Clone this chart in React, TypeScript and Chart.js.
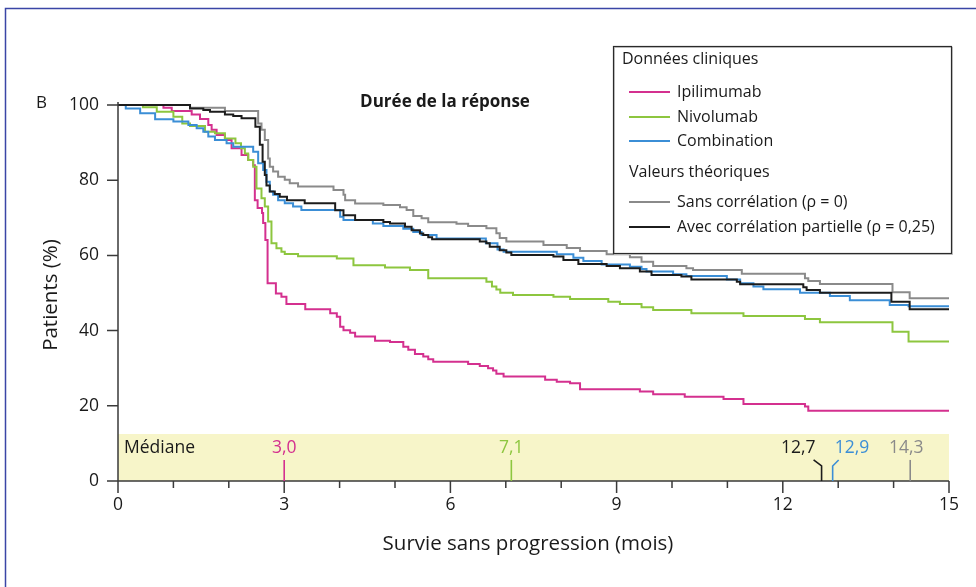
import React, { useEffect, useRef } from 'react';
import { Chart, registerables } from 'chart.js';

Chart.register(...registerables);

// ---- Data (months, % patients) ----
const xTickValues = [0, 3, 6, 9, 12, 15];
const yTickValues = [0, 20, 40, 60, 80, 100];

const ipilimumabTimes = [0, 0.82, 0.97, 1.33, 1.48, 1.63, 1.69, 1.78, 1.93, 2.05, 2.23, 2.35, 2.44, 2.47, 2.52, 2.6, 2.62, 2.66, 2.7, 2.85, 2.95, 3.04, 3.38, 3.83, 3.95, 4.01, 4.07, 4.19, 4.28, 4.64, 4.91, 5.15, 5.24, 5.36, 5.51, 5.6, 5.69, 6.32, 6.53, 6.68, 6.77, 6.83, 6.96, 7.71, 7.92, 8.16, 8.34, 9.42, 9.66, 10.23, 10.93, 11.29, 12.4, 12.46, 15];
const ipilimumabSurvival = [100, 99.3, 98.4, 97.5, 96.3, 94.7, 93.4, 92.0, 90.7, 88.5, 86.7, 85.4, 84.0, 74.7, 72.6, 71.3, 68.6, 64.1, 52.6, 49.9, 49.0, 47.1, 45.7, 44.6, 43.7, 41.0, 40.1, 39.4, 38.4, 37.3, 37.0, 35.7, 34.9, 33.8, 33.1, 32.4, 31.7, 31.1, 30.6, 30.0, 29.4, 28.5, 27.8, 26.9, 26.4, 26.0, 24.4, 23.8, 23.1, 22.4, 21.8, 20.5, 19.8, 18.7, 18.7];

const nivolumabTimes = [0, 0.45, 0.7, 1.0, 1.16, 1.3, 1.57, 1.75, 1.93, 2.12, 2.22, 2.29, 2.35, 2.44, 2.5, 2.59, 2.65, 2.71, 2.77, 2.86, 2.95, 3.01, 3.25, 3.95, 4.25, 4.82, 5.27, 5.6, 6.65, 6.75, 6.83, 6.9, 7.13, 7.86, 8.16, 8.85, 9.06, 9.45, 9.66, 10.35, 11.29, 12.4, 12.67, 13.98, 14.27, 15];
const nivolumabSurvival = [100, 99.4, 98.2, 96.9, 95.1, 94.4, 92.9, 92.5, 91.1, 89.8, 88.5, 87.1, 85.4, 83.6, 77.8, 75.2, 73.0, 69.0, 63.2, 61.9, 61.0, 60.4, 59.8, 59.2, 57.4, 56.8, 56.1, 53.9, 53.0, 51.7, 50.9, 50.1, 49.5, 49.0, 48.4, 47.7, 47.1, 46.2, 45.5, 44.6, 43.9, 43.1, 42.2, 39.7, 37.1, 37.1];

const combinationTimes = [0, 0.14, 0.4, 0.67, 1.0, 1.27, 1.42, 1.54, 1.63, 1.75, 1.96, 2.08, 2.44, 2.53, 2.62, 2.68, 2.74, 2.8, 2.89, 3.01, 3.16, 3.31, 4.01, 4.07, 4.6, 4.79, 5.15, 5.33, 5.48, 5.75, 6.64, 6.85, 6.96, 7.92, 8.22, 8.4, 8.73, 9.24, 9.45, 9.54, 10.02, 10.26, 10.99, 11.23, 11.47, 11.65, 12.31, 12.85, 13.21, 13.93, 14.27, 15];
const combinationSurvival = [100, 99.1, 97.8, 96.2, 95.6, 94.7, 93.8, 92.9, 91.6, 90.7, 89.8, 88.9, 87.6, 84.5, 82.7, 79.6, 77.0, 76.1, 74.7, 73.9, 73.0, 72.1, 70.3, 69.4, 68.5, 67.8, 67.1, 66.2, 65.4, 64.5, 63.2, 61.6, 61.0, 60.3, 59.4, 58.5, 57.6, 57.0, 56.4, 55.7, 55.0, 54.5, 53.6, 52.6, 51.7, 51.0, 50.1, 49.2, 48.1, 46.8, 46.5, 46.5];

const noCorrTimes = [0, 1.3, 1.93, 2.53, 2.59, 2.65, 2.71, 2.74, 2.8, 2.89, 3.01, 3.1, 3.25, 3.89, 4.07, 4.1, 4.28, 4.79, 5.09, 5.21, 5.33, 5.48, 5.6, 6.11, 6.32, 6.65, 6.83, 6.89, 7.01, 7.68, 8.1, 8.34, 8.82, 9.24, 9.45, 9.66, 10.26, 10.38, 11.26, 12.4, 12.46, 12.67, 13.98, 14.29, 15];
const noCorrSurvival = [100, 99.3, 98.4, 95.1, 93.4, 90.7, 85.8, 83.6, 82.3, 80.9, 80.1, 79.2, 78.3, 77.4, 76.1, 74.7, 73.8, 73.4, 72.8, 72.1, 70.5, 69.9, 68.8, 68.4, 67.8, 67.2, 65.9, 64.6, 63.7, 62.8, 62.0, 61.2, 60.3, 59.5, 58.3, 57.2, 56.6, 56.1, 55.1, 53.9, 53.2, 52.4, 50.2, 48.6, 48.6];

const partialCorrTimes = [0, 1.3, 1.54, 1.66, 1.93, 2.08, 2.23, 2.48, 2.56, 2.61, 2.65, 2.68, 2.74, 2.83, 2.92, 3.05, 3.37, 3.92, 4.07, 4.28, 4.79, 4.91, 5.18, 5.3, 5.45, 5.51, 5.6, 5.67, 6.53, 6.65, 6.71, 6.89, 7.01, 7.1, 7.86, 8.04, 8.31, 8.82, 9.06, 9.42, 9.63, 10.17, 10.35, 11.17, 11.23, 12.37, 12.43, 12.67, 13.96, 14.29, 15];
const partialCorrSurvival = [100, 99.1, 98.7, 98.2, 97.5, 97.1, 96.5, 94.2, 89.4, 84.9, 81.4, 78.6, 77.0, 76.3, 75.6, 74.7, 73.9, 72.0, 70.7, 69.4, 68.9, 68.5, 67.6, 66.7, 65.8, 65.4, 64.8, 64.3, 63.7, 63.2, 62.3, 61.4, 60.8, 60.1, 59.7, 58.8, 57.7, 57.2, 56.6, 55.7, 54.8, 54.4, 53.6, 53.0, 52.3, 51.5, 50.8, 50.1, 47.7, 45.7, 45.7];

const seriesLabels = ['Ipilimumab', 'Nivolumab', 'Combination', 'Sans corrélation (ρ = 0)', 'Avec corrélation partielle (ρ = 0,25)'];
const seriesColors = ['#d4308f', '#8dc63f', '#3b8ed6', '#8a8a8a', '#1c1c1c'];

const medianValues = [3.0, 7.1, 12.7, 12.9, 14.3];
const medianLabels = ['3,0', '7,1', '12,7', '12,9', '14,3'];
const medianColors = ['#d4308f', '#8dc63f', '#1c1c1c', '#3b8ed6', '#8a8a8a'];
const medianBandTop = 12.5;

const FONT = "'Open Sans', 'Noto Sans', sans-serif";

const overlayPlugin = {
  id: 'overlay',
  beforeDraw(chart: any) {
    const { ctx, width, height } = chart;
    ctx.save();
    ctx.fillStyle = '#ffffff';
    ctx.fillRect(0, 0, width, height);
    ctx.strokeStyle = '#3a46a6';
    ctx.lineWidth = 1.5;
    ctx.beginPath();
    ctx.moveTo(5.5, height);
    ctx.lineTo(5.5, 8.5);
    ctx.lineTo(width, 8.5);
    ctx.stroke();
    ctx.restore();
  },
  beforeDatasetsDraw(chart: any) {
    const { ctx } = chart;
    const xs = chart.scales.x;
    const ys = chart.scales.y;
    ctx.save();
    ctx.fillStyle = '#f7f5c9';
    const x0 = xs.getPixelForValue(0);
    const x1 = xs.getPixelForValue(15);
    const yTop = ys.getPixelForValue(medianBandTop);
    const yBot = ys.getPixelForValue(0);
    ctx.fillRect(x0, yTop, x1 - x0, yBot - yTop);
    ctx.restore();
  },
  afterDraw(chart: any) {
    const { ctx } = chart;
    const xs = chart.scales.x;
    const ys = chart.scales.y;
    const area = chart.chartArea;
    ctx.save();

    // axes
    ctx.strokeStyle = '#3a3a3a';
    ctx.lineWidth = 1.5;
    ctx.beginPath();
    ctx.moveTo(area.left, area.top);
    ctx.lineTo(area.left, ys.getPixelForValue(0) + 12);
    ctx.moveTo(area.left, ys.getPixelForValue(0));
    ctx.lineTo(xs.getPixelForValue(15), ys.getPixelForValue(0));
    ctx.stroke();
    // y ticks
    ctx.beginPath();
    yTickValues.forEach((v) => {
      const y = ys.getPixelForValue(v);
      ctx.moveTo(area.left - 11, y);
      ctx.lineTo(area.left, y);
    });
    // x ticks (monthly, longer every 3 months)
    const y0 = ys.getPixelForValue(0);
    for (let m = 1; m <= 15; m++) {
      const x = xs.getPixelForValue(m);
      const len = m % 3 === 0 ? 12 : 7;
      ctx.moveTo(x, y0);
      ctx.lineTo(x, y0 + len);
    }
    ctx.stroke();

    // median markers
    ctx.lineWidth = 1.6;
    const hooks = [0, 0, -8, 6, 0];
    medianValues.forEach((m, i) => {
      const x = xs.getPixelForValue(m);
      const yT = ys.getPixelForValue(5.6);
      const yB = ys.getPixelForValue(4.0);
      ctx.strokeStyle = medianColors[i];
      ctx.beginPath();
      if (hooks[i]) {
        ctx.moveTo(x + hooks[i], yT);
        ctx.lineTo(x, yB);
      } else {
        ctx.moveTo(x, yT);
      }
      ctx.lineTo(x, y0);
      ctx.stroke();
    });
    // median labels
    ctx.font = `17.5px ${FONT}`;
    ctx.textBaseline = 'middle';
    const aligns = ['center', 'center', 'right', 'left', 'center'];
    const offs = [0, 0, -6, 2, -4];
    const yLab = ys.getPixelForValue(8.8);
    medianValues.forEach((m, i) => {
      ctx.fillStyle = medianColors[i];
      ctx.textAlign = aligns[i];
      ctx.fillText(medianLabels[i], xs.getPixelForValue(m) + offs[i], yLab);
    });
    ctx.fillStyle = '#1a1a1a';
    ctx.textAlign = 'left';
    ctx.fillText('Médiane', area.left + 6, yLab);

    // title and panel letter
    ctx.font = `bold 17px ${FONT}`;
    ctx.textAlign = 'center';
    ctx.fillText('Durée de la réponse', 445, 102);
    ctx.font = `17px ${FONT}`;
    ctx.textAlign = 'left';
    ctx.fillText('B', 36, 103);

    // axis titles
    ctx.font = `20.5px ${FONT}`;
    ctx.textAlign = 'center';
    ctx.fillText('Survie sans progression (mois)', 528, 544);
    ctx.save();
    ctx.translate(51, 295);
    ctx.rotate(-Math.PI / 2);
    ctx.fillText('Patients (%)', 0, 0);
    ctx.restore();

    // legend
    const bx = 613, by = 46, bw = 338, bh = 207;
    ctx.fillStyle = '#ffffff';
    ctx.fillRect(bx, by, bw, bh);
    ctx.strokeStyle = '#c8c8c8';
    ctx.lineWidth = 1;
    ctx.strokeRect(bx + 1.5, by + 1.5, bw, bh);
    ctx.strokeStyle = '#2a2a2a';
    ctx.lineWidth = 1.2;
    ctx.strokeRect(bx + 0.5, by + 0.5, bw, bh);
    ctx.font = `16px ${FONT}`;
    ctx.textAlign = 'left';
    ctx.fillStyle = '#1a1a1a';
    ctx.fillText('Données cliniques', 622, 59);
    ctx.fillText('Valeurs théoriques', 629, 172);
    const rowsY = [92, 117, 141, 202, 227];
    chart.data.datasets.forEach((ds: any, i: number) => {
      ctx.strokeStyle = ds.borderColor;
      ctx.lineWidth = 2;
      ctx.beginPath();
      ctx.moveTo(629, rowsY[i]);
      ctx.lineTo(670, rowsY[i]);
      ctx.stroke();
      ctx.fillStyle = '#1a1a1a';
      ctx.fillText(ds.label, 677, rowsY[i]);
    });

    ctx.restore();
  },
};

function toPoints(times: number[], vals: number[]) {
  return times.map((t, i) => ({ x: t, y: vals[i] }));
}

export default function App() {
  const canvasRef = useRef<HTMLCanvasElement | null>(null);

  useEffect(() => {
    document.body.style.margin = '0';
    const canvas = canvasRef.current;
    if (!canvas) return;
    const seriesTimes = [ipilimumabTimes, nivolumabTimes, combinationTimes, noCorrTimes, partialCorrTimes];
    const seriesVals = [ipilimumabSurvival, nivolumabSurvival, combinationSurvival, noCorrSurvival, partialCorrSurvival];
    const orders = [4, 3, 1, 2, 0];
    const chart = new Chart(canvas, {
      type: 'line',
      data: {
        datasets: seriesLabels.map((label, i) => ({
          label,
          data: toPoints(seriesTimes[i], seriesVals[i]),
          borderColor: seriesColors[i],
          backgroundColor: seriesColors[i],
          borderWidth: 2,
          pointRadius: 0,
          stepped: 'before' as const,
          fill: false,
          order: orders[i],
        })),
      },
      options: {
        responsive: false,
        animation: false,
        devicePixelRatio: 1,
        layout: { padding: { left: 0, right: 27, top: 102, bottom: 0 } },
        plugins: { legend: { display: false }, tooltip: { enabled: false }, title: { display: false } },
        events: [],
        scales: {
          x: {
            type: 'linear',
            min: 0,
            max: 15,
            grid: { display: false, drawTicks: false },
            border: { display: false },
            afterBuildTicks: (scale: any) => {
              scale.ticks = xTickValues.map((v) => ({ value: v }));
            },
            afterFit: (scale: any) => {
              scale.height = 106;
            },
            ticks: {
              padding: 14,
              maxRotation: 0,
              autoSkip: false,
              color: '#1a1a1a',
              font: { family: FONT, size: 17.5 },
            },
          },
          y: {
            type: 'linear',
            min: 0,
            max: 100.8,
            grid: { display: false, drawTicks: false },
            border: { display: false },
            afterBuildTicks: (scale: any) => {
              scale.ticks = yTickValues.map((v) => ({ value: v }));
            },
            afterFit: (scale: any) => {
              scale.width = 118;
            },
            ticks: {
              padding: 19,
              color: '#1a1a1a',
              font: { family: FONT, size: 17.5 },
            },
          },
        },
      },
      plugins: [overlayPlugin],
    });
    return () => chart.destroy();
  }, []);

  return (
    <div style={{ width: 976, height: 587, background: '#fff' }}>
      <canvas ref={canvasRef} width={976} height={587} style={{ display: 'block' }} />
    </div>
  );
}
